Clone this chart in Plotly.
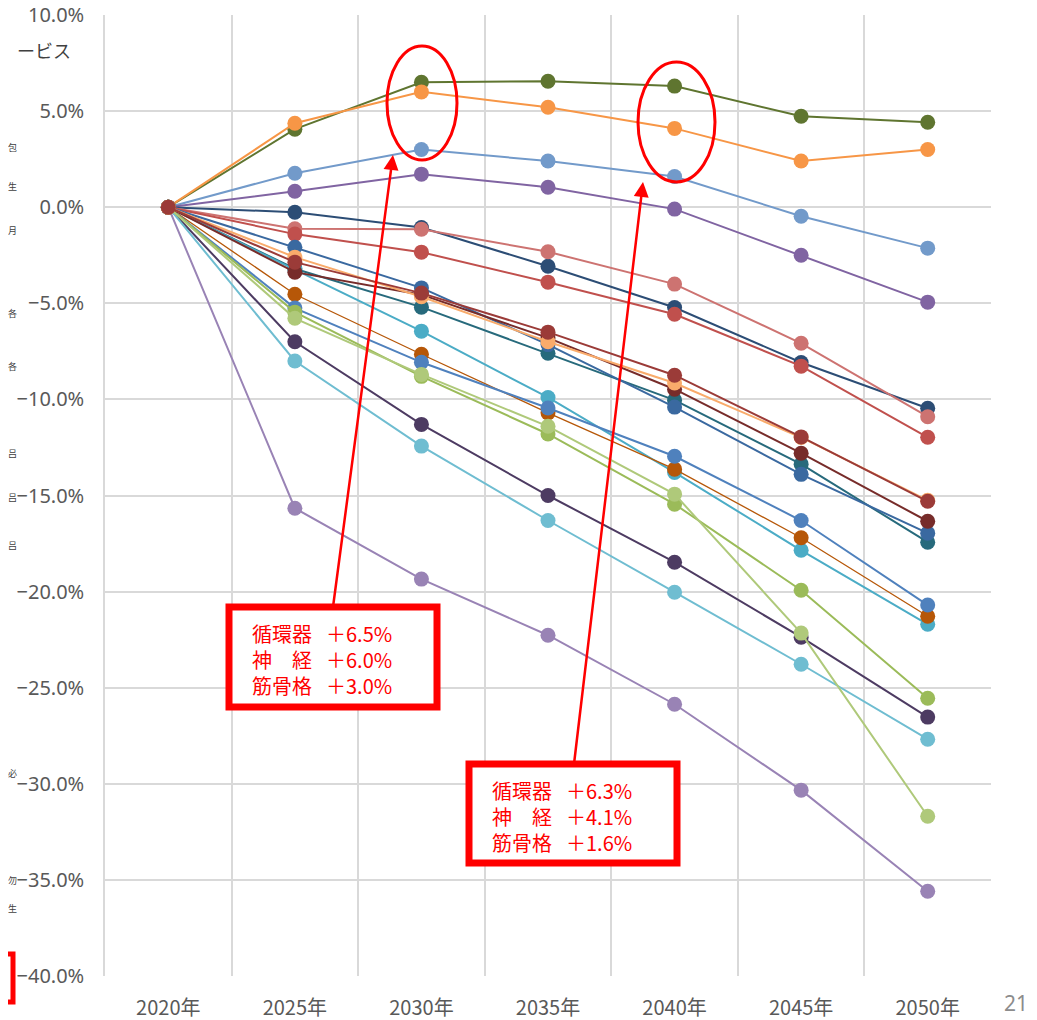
import plotly.graph_objects as go

years = ["2020年", "2025年", "2030年", "2035年", "2040年", "2045年", "2050年"]

olive       = [0, 4.06, 6.5, 6.55, 6.3, 4.73, 4.42]
orange      = [0, 4.37, 6.0, 5.2, 4.1, 2.4, 3.0]
light_blue  = [0, 1.77, 3.0, 2.4, 1.6, -0.47, -2.13]
purple      = [0, 0.83, 1.72, 1.04, -0.1, -2.5, -4.94]
navy        = [0, -0.26, -1.06, -3.07, -5.22, -8.08, -10.46]
pink        = [0, -1.12, -1.15, -2.32, -4.0, -7.08, -10.9]
red         = [0, -1.4, -2.34, -3.9, -5.57, -8.27, -11.97]
teal        = [0, -3.2, -5.2, -7.6, -10.04, -13.37, -17.43]
blue        = [0, -2.08, -4.2, -7.15, -10.4, -13.9, -16.96]
cyan        = [0, -3.25, -6.45, -9.9, -13.8, -17.85, -21.7]
brown       = [0, -4.53, -7.65, -10.7, -13.63, -17.2, -21.28]
med_blue    = [0, -5.25, -8.07, -10.45, -12.96, -16.3, -20.7]
dark_purple = [0, -7.0, -11.3, -15.0, -18.47, -22.37, -26.53]
light_cyan  = [0, -8.0, -12.43, -16.3, -20.03, -23.78, -27.68]
lavender    = [0, -15.66, -19.35, -22.27, -25.86, -30.33, -35.59]
green       = [0, -5.46, -8.8, -11.8, -15.45, -19.93, -25.55]
light_green = [0, -5.78, -8.7, -11.4, -14.93, -22.16, -31.69]
maroon      = [0, -3.38, -4.55, -6.8, -9.47, -12.8, -16.34]
light_orange= [0, -2.6, -4.66, -7.0, -9.15, -11.98, -15.25]
dark_red    = [0, -2.86, -4.47, -6.5, -8.74, -11.95, -15.3]

box1_lines = ["循環器\u2002\u2009＋6.5%", "神　経\u2002\u2009＋6.0%", "筋骨格\u2002\u2009＋3.0%"]
box2_lines = ["循環器\u2002\u2009＋6.3%", "神　経\u2002\u2009＋4.1%", "筋骨格\u2002\u2009＋1.6%"]
left_fragments = ["ービス", "包", "生", "月", "各", "各", "吕", "吕", "吕", "必", "勿", "生"]
page_number = "21"

series = [
    (olive, "#5f7530", 2), (orange, "#f79646", 2), (light_blue, "#729aca", 2),
    (purple, "#8064a2", 2), (navy, "#2c4d75", 2), (pink, "#cd7371", 2),
    (red, "#c0504d", 2), (teal, "#276a7c", 2), (blue, "#3a69a0", 2),
    (cyan, "#4bacc6", 2), (brown, "#b65708", 1.3), (med_blue, "#4f81bd", 2),
    (dark_purple, "#4d3b62", 2), (light_cyan, "#6fbdd1", 2), (lavender, "#9983b5", 2),
    (green, "#9bbb59", 2), (light_green, "#afc97a", 2), (maroon, "#772c2a", 2),
    (light_orange, "#f9ab6b", 2), (dark_red, "#9b3b38", 2),
]

fig = go.Figure()
for vals, col, w in series:
    fig.add_trace(go.Scatter(
        x=years, y=vals, mode="lines+markers",
        line=dict(color=col, width=w),
        marker=dict(color=col, size=15),
        showlegend=False, hoverinfo="skip",
    ))

# page body has an 8px margin; figure is shrunk so the plot lands where the reference has it
OFF = 8
W, H = 1037 - OFF, 1020 - OFF
PL, PR, PT, PB = 105, 991, 15, 976          # plot area in reference pixels
PW, PH = PR - PL, PB - PT
ML, MT = PL - OFF, PT - OFF
MR, MB = W - ML - PW, H - MT - PH

def dx(px):
    return (px - PL) / PW * 7 - 0.5

def dy(py):
    return 10 - (py - PT) / PH * 50

def px_(p):
    return (p - PL) / PW

def py_(p):
    return (PB - p) / PH

shapes = []
annotations = []

for (x0, x1, y0, y1) in [(229, 437, 607, 707), (469, 677, 764, 863)]:
    shapes.append(dict(type="rect", xref="x", yref="y",
                       x0=dx(x0), x1=dx(x1), y0=dy(y0), y1=dy(y1),
                       line=dict(color="#ff0000", width=7), fillcolor="white",
                       layer="above"))

for (x0, x1, y0, y1) in [(387, 457, 46, 160), (638, 715, 62, 182)]:
    shapes.append(dict(type="circle", xref="x", yref="y",
                       x0=dx(x0), x1=dx(x1), y0=dy(y0), y1=dy(y1),
                       line=dict(color="#ff0000", width=3), layer="above"))

shapes.append(dict(type="rect", xref="paper", yref="paper",
                   x0=px_(-20), x1=px_(13), y0=py_(1002), y1=py_(954),
                   line=dict(color="#ff0000", width=5), layer="above"))

for (hx, hy, tx, ty) in [(393, 155, 333, 607), (643, 182, 574, 764)]:
    annotations.append(dict(x=dx(hx), y=dy(hy), xref="x", yref="y",
                            ax=dx(tx), ay=dy(ty), axref="x", ayref="y",
                            showarrow=True, arrowhead=2, arrowsize=1.2,
                            arrowwidth=2.5, arrowcolor="#ff0000", text=""))

for x0, yc, lines in [(250, 659, box1_lines), (490, 816, box2_lines)]:
    annotations.append(dict(x=dx(x0), y=dy(yc), xref="x", yref="y",
                            xanchor="left", yanchor="middle", align="left",
                            showarrow=False, text="<br>".join(lines),
                            font=dict(family="Noto Sans CJK JP", size=20,
                                      color="#ff0000")))

left_pos = [(73, 50, 18)] + [(19, yy, 9) for yy in
            (147, 187, 230, 313, 367, 453, 497, 545, 773, 880, 908)]
for (xr, yy, fs), t in zip(left_pos, left_fragments):
    annotations.append(dict(x=px_(xr), y=py_(yy), xref="paper", yref="paper",
                            xanchor="right", yanchor="middle", showarrow=False,
                            text=t, font=dict(family="Noto Sans CJK JP", size=fs,
                                              color="#404040")))

annotations.append(dict(x=px_(1030), y=py_(1003), xref="paper", yref="paper",
                        xanchor="right", yanchor="middle", showarrow=False,
                        text=page_number, font=dict(family="Noto Sans", size=21,
                                                    color="#8c8c8c")))

fig.update_layout(
    width=W, height=H,
    margin=dict(l=ML, r=MR, t=MT, b=MB, pad=0, autoexpand=False),
    paper_bgcolor="white", plot_bgcolor="white",
    shapes=shapes, annotations=annotations,
    xaxis=dict(type="category", range=[-0.5, 6.5], tickson="boundaries",
               showgrid=True, gridcolor="#d9d9d9", gridwidth=1.5,
               showline=False, zeroline=False, ticks="",
               ticklabelstandoff=18,
               tickfont=dict(family="Noto Sans CJK JP", size=20, color="#595959")),
    yaxis=dict(range=[-40, 10], dtick=5, tickformat=".1f", ticksuffix="%",
               showgrid=True, gridcolor="#d9d9d9", gridwidth=1.5,
               showline=True, linecolor="#d9d9d9", linewidth=1.5,
               zeroline=False, ticks="", ticklabelstandoff=15,
               ticklabeloverflow="allow",
               tickfont=dict(family="Noto Sans", size=20, color="#595959")),
)

fig.write_html("out.html")
